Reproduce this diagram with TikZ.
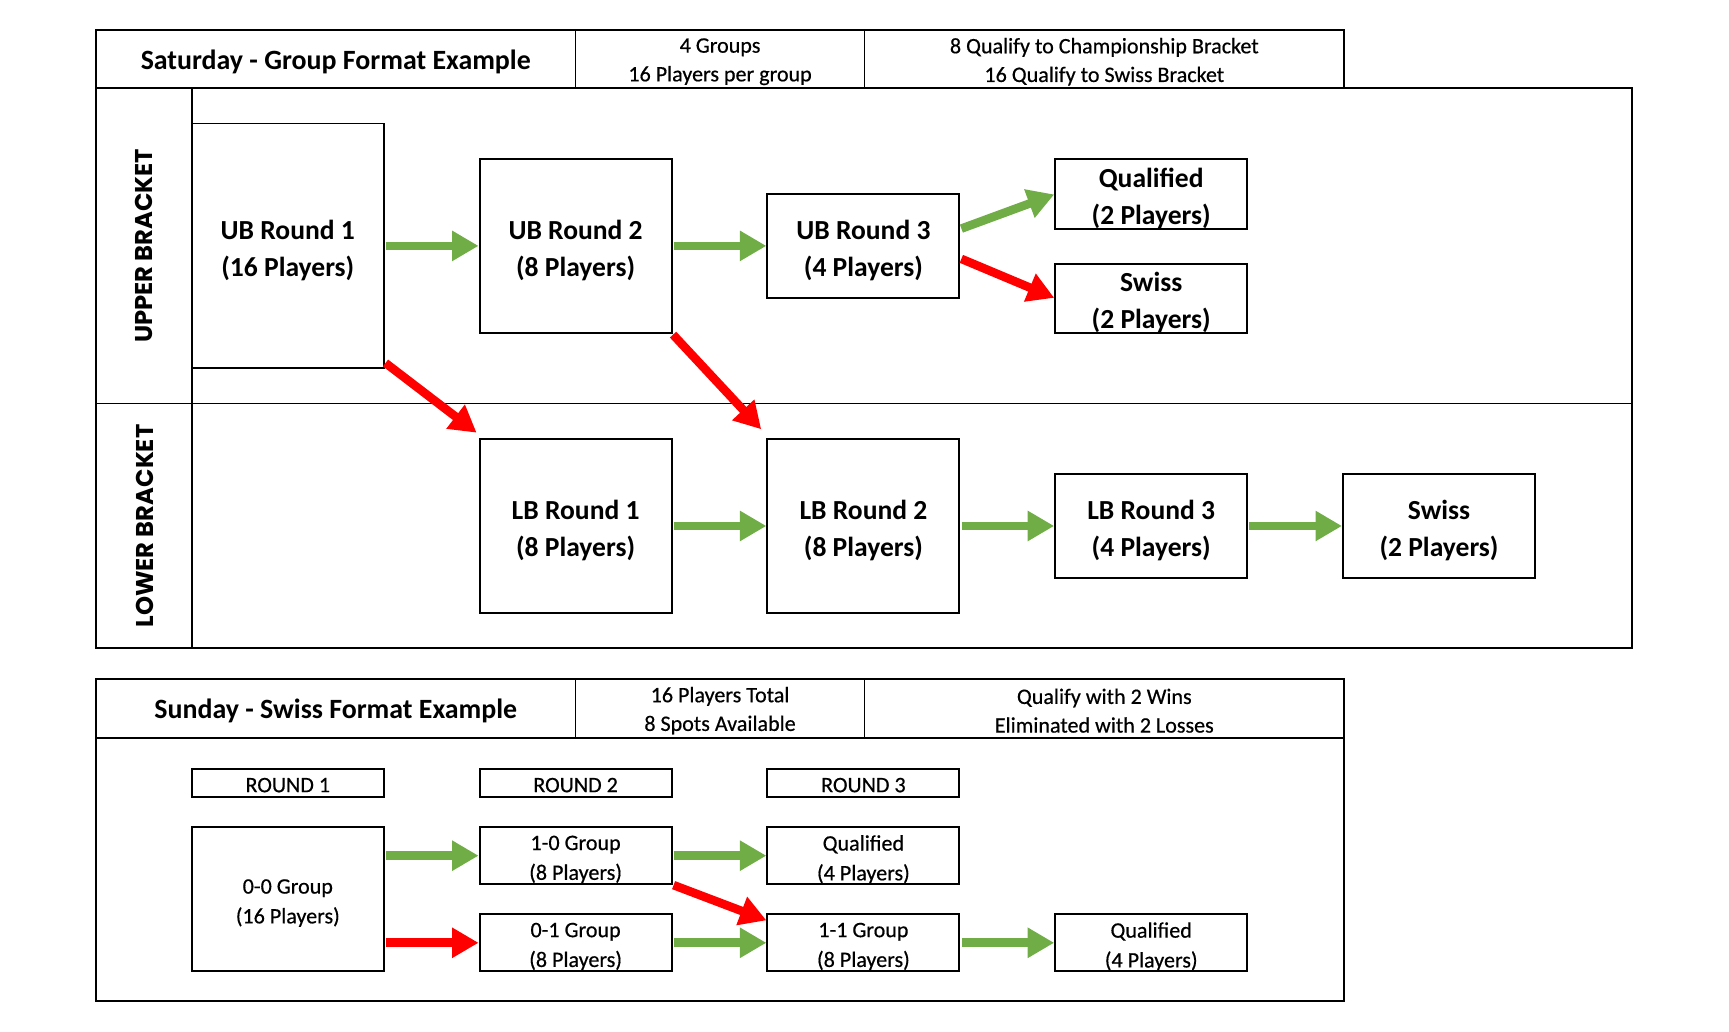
\documentclass[tikz,border=0pt]{standalone}
\usepackage{fontspec}
\setmainfont{Carlito}
\newfontfamily\regfont[FakeBold=0.5]{Carlito}
\newfontfamily\labelfont{Poppins}
\usetikzlibrary{arrows.meta}
\definecolor{xgreen}{HTML}{70AD47}
\definecolor{xred}{HTML}{FF0000}
\newcommand{\mkbox}[7]{%
  \node[#1, minimum width=#5pt, minimum height=#6pt] (#2) at (#3,#4) {};
  \node[#1text] (#2t) at (#2.center) {#7};}
\begin{document}
\begin{tikzpicture}[x=1pt,y=-1pt,
  frame/.style={line width=1.8pt},
  thinline/.style={line width=1pt},
  midline/.style={line width=1.4pt},
  bigbox/.style={draw, line width=1.8pt, inner sep=0pt, outer sep=0pt},
  bigboxtext/.style={inner sep=0pt, align=center, yshift=-4pt, font=\bfseries\fontsize{25}{34}\selectfont},
  smallbox/.style={draw, line width=1.8pt, inner sep=0pt, outer sep=0pt},
  smallboxtext/.style={inner sep=0pt, align=center, yshift=-3.5pt, font=\regfont\fontsize{20}{27}\selectfont},
  roundbox/.style={draw, line width=1.8pt, inner sep=0pt, outer sep=0pt},
  roundboxtext/.style={inner sep=0pt, align=center, yshift=-2pt, font=\regfont\fontsize{20}{27}\selectfont},
  hdr/.style={inner sep=0pt, align=center, font=\regfont\fontsize{20}{26}\selectfont},
  titletext/.style={inner sep=0pt, font=\bfseries\fontsize{25.3}{30}\selectfont},
  side/.style={rotate=90, inner sep=0pt, font=\labelfont\bfseries\fontsize{22}{26}\selectfont},
  garrow/.style={draw=xgreen, line width=7.8pt, shorten <=2pt, shorten >=1pt, -{Triangle[length=24pt,width=26pt]}},
  rarrow/.style={draw=xred, line width=7.8pt, shorten <=2pt, shorten >=1pt, -{Triangle[length=24pt,width=26pt]}}
]
\useasboundingbox (0,0) rectangle (1568,935.9);
% Saturday header
\draw[frame] (87,27) rectangle (1219,80);
\draw[thinline] (522,27) -- (522,80);
\draw[thinline] (784,27) -- (784,80);
\node[titletext] (sattitle) at (304.5,56) {Saturday - Group Format Example};
\node[hdr] (sat1) at (653,56) {4 Groups\\16 Players per group};
\node[hdr] (sat2) at (1001.5,56) {8 Qualify to Championship Bracket\\16 Qualify to Swiss Bracket};
% Saturday frame
\draw[frame] (87,80) rectangle (1480,588);
\draw[midline] (174,80) -- (174,588);
\draw[thinline] (87,366) -- (1480,366);
\node[side] (ublabel) at (131,223) {UPPER BRACKET};
\node[side] (lblabel) at (131,477) {LOWER BRACKET};
% Saturday boxes
\mkbox{bigbox}{ub1}{261}{223}{174}{222}{UB Round 1\\(16 Players)}
\mkbox{bigbox}{ub2}{522}{223}{174}{158}{UB Round 2\\(8 Players)}
\mkbox{bigbox}{ub3}{783}{223}{174}{94}{UB Round 3\\(4 Players)}
\mkbox{bigbox}{q2}{1044}{176}{174}{64}{Qualified\\(2 Players)}
\mkbox{bigbox}{s2}{1044}{270.5}{174}{63}{Swiss\\(2 Players)}
\mkbox{bigbox}{lb1}{522}{477}{174}{158}{LB Round 1\\(8 Players)}
\mkbox{bigbox}{lb2}{783}{477}{174}{158}{LB Round 2\\(8 Players)}
\mkbox{bigbox}{lb3}{1044}{477}{174}{94}{LB Round 3\\(4 Players)}
\mkbox{bigbox}{ls}{1305}{477}{174}{94}{Swiss\\(2 Players)}
% Saturday arrows
\draw[garrow] (ub1.east) -- (ub2.west);
\draw[garrow] (ub2.east) -- (ub3.west);
\draw[garrow] ([yshift=15pt]ub3.east) -- (q2.west);
\draw[rarrow] ([yshift=-11pt]ub3.east) -- (s2.west);
\draw[rarrow] ([yshift=6pt]ub1.south east) -- ([xshift=-2pt,yshift=5pt]lb1.north west);
\draw[rarrow] (ub2.south east) -- ([xshift=-5pt,yshift=8pt]lb2.north west);
\draw[garrow] (lb1.east) -- (lb2.west);
\draw[garrow] (lb2.east) -- (lb3.west);
\draw[garrow] (lb3.east) -- (ls.west);
% Sunday header
\draw[frame] (87,616) rectangle (1219,669);
\draw[thinline] (522,616) -- (522,669);
\draw[thinline] (784,616) -- (784,669);
\node[titletext] (suntitle) at (304.5,645) {Sunday - Swiss Format Example};
\node[hdr] (sun1) at (653,644.5) {16 Players Total\\8 Spots Available};
\node[hdr] (sun2) at (1001.5,644.5) {Qualify with 2 Wins\\Eliminated with 2 Losses};
\draw[frame] (87,669) rectangle (1219,908);
% Sunday boxes
\mkbox{roundbox}{r1}{261}{710}{174}{26}{ROUND 1}
\mkbox{roundbox}{r2}{522}{710}{174}{26}{ROUND 2}
\mkbox{roundbox}{r3}{783}{710}{174}{26}{ROUND 3}
\mkbox{smallbox}{g00}{261}{815.5}{174}{131}{0-0 Group\\(16 Players)}
\mkbox{smallbox}{g10}{522}{776}{174}{52}{1-0 Group\\(8 Players)}
\mkbox{smallbox}{g01}{522}{855}{174}{52}{0-1 Group\\(8 Players)}
\mkbox{smallbox}{q4a}{783}{776}{174}{52}{Qualified\\(4 Players)}
\mkbox{smallbox}{g11}{783}{855}{174}{52}{1-1 Group\\(8 Players)}
\mkbox{smallbox}{q4b}{1044}{855}{174}{52}{Qualified\\(4 Players)}
% Sunday arrows
\draw[garrow] (g00.east |- g10.west) -- (g10.west);
\draw[rarrow] (g00.east |- g01.west) -- (g01.west);
\draw[garrow] (g10.east) -- (q4a.west);
\draw[rarrow] (g10.south east) -- ([yshift=-6pt]g11.north west);
\draw[garrow] (g01.east) -- (g11.west);
\draw[garrow] (g11.east) -- (q4b.west);
\end{tikzpicture}
\end{document}
